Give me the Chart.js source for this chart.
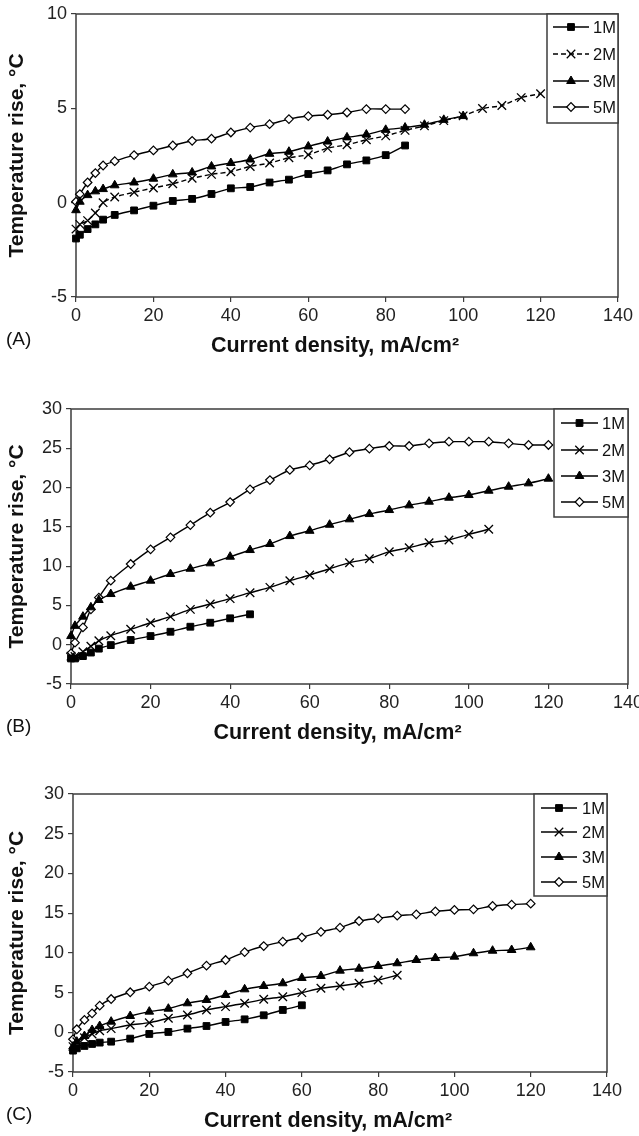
<!DOCTYPE html>
<html>
<head>
<meta charset="utf-8">
<script src="https://cdn.jsdelivr.net/npm/chart.js"></script>
<style>
    html, body { margin: 0; padding: 0; background: #fff; }
    body { width: 639px; height: 1136px; position: relative; overflow: hidden; }
    canvas { position: absolute; left: 0; }
</style>
</head>
<body>
<canvas id="chartA" width="639" height="362" style="top:0px"></canvas>
<canvas id="chartB" width="639" height="388" style="top:362px"></canvas>
<canvas id="chartC" width="639" height="386" style="top:750px"></canvas>
<script>
// ==================== DATA ====================
// current density, mA/cm2 (each series uses the first N values)
const X_MOC = [0, 1, 3, 5, 7, 10, 15, 20, 25, 30, 35, 40, 45, 50, 55, 60, 65, 70, 75, 80, 85, 90, 95, 100, 105, 110, 115, 120];
const SERIES_NAMES = ["1M", "2M", "3M", "5M"];
const X_TICKS = [0, 20, 40, 60, 80, 100, 120, 140];

// panel (A) temperature rise, °C
const a1M = [-1.9, -1.7, -1.4, -1.15, -0.9, -0.65, -0.41, -0.16, 0.09, 0.2, 0.46, 0.76, 0.83, 1.07, 1.22, 1.52, 1.71, 2.03, 2.24, 2.52, 3.03];
const a2M = [-1.4, -1.15, -0.95, -0.55, 0.0, 0.3, 0.55, 0.78, 1.0, 1.29, 1.5, 1.64, 1.92, 2.1, 2.38, 2.54, 2.89, 3.07, 3.33, 3.54, 3.83, 4.07, 4.35, 4.6, 4.99, 5.15, 5.57, 5.77];
const a3M = [-0.4, 0.05, 0.4, 0.6, 0.72, 0.92, 1.07, 1.27, 1.5, 1.6, 1.92, 2.1, 2.29, 2.59, 2.7, 2.98, 3.24, 3.46, 3.61, 3.86, 3.98, 4.13, 4.39, 4.59];
const a5M = [0.05, 0.45, 1.07, 1.57, 1.97, 2.2, 2.52, 2.77, 3.03, 3.28, 3.39, 3.72, 3.98, 4.16, 4.43, 4.59, 4.66, 4.78, 4.96, 4.96, 4.96];

// panel (B)
const b1M = [-1.75, -1.75, -1.45, -1.0, -0.5, -0.05, 0.6, 1.1, 1.65, 2.29, 2.8, 3.36, 3.87];
const b2M = [-1.45, -1.5, -0.9, -0.2, 0.5, 1.15, 1.96, 2.8, 3.57, 4.5, 5.18, 5.86, 6.62, 7.3, 8.15, 8.87, 9.67, 10.44, 10.95, 11.84, 12.35, 12.98, 13.33, 14.05, 14.69];
const b3M = [1.1, 2.4, 3.57, 4.76, 5.69, 6.45, 7.38, 8.15, 9.0, 9.67, 10.36, 11.2, 12.05, 12.82, 13.83, 14.5, 15.27, 15.96, 16.63, 17.14, 17.74, 18.2, 18.71, 19.05, 19.6, 20.11, 20.54, 21.13];
const b5M = [-1.1, 0.26, 2.2, 4.5, 6.0, 8.15, 10.27, 12.14, 13.67, 15.23, 16.8, 18.16, 19.78, 20.96, 22.24, 22.83, 23.6, 24.5, 24.95, 25.29, 25.29, 25.63, 25.84, 25.84, 25.84, 25.63, 25.42, 25.42];

// panel (C)
const c1M = [-2.31, -2.02, -1.72, -1.47, -1.3, -1.18, -0.8, -0.21, 0.04, 0.46, 0.79, 1.3, 1.63, 2.14, 2.81, 3.4];
const c2M = [-1.8, -1.2, -0.68, -0.21, 0.2, 0.46, 0.92, 1.21, 1.76, 2.18, 2.81, 3.23, 3.65, 4.15, 4.48, 4.99, 5.54, 5.83, 6.17, 6.58, 7.18];
const c3M = [-1.8, -1.18, -0.47, 0.29, 0.79, 1.34, 2.05, 2.6, 2.97, 3.65, 4.07, 4.7, 5.41, 5.83, 6.17, 6.84, 7.09, 7.76, 8.01, 8.35, 8.69, 9.1, 9.35, 9.52, 9.95, 10.27, 10.36, 10.7];
const c5M = [-0.88, 0.38, 1.55, 2.39, 3.35, 4.19, 5.04, 5.74, 6.5, 7.43, 8.39, 9.1, 10.1, 10.86, 11.41, 11.96, 12.65, 13.17, 14.01, 14.35, 14.68, 14.85, 15.23, 15.4, 15.48, 15.9, 16.07, 16.19];

const FONT = '"Liberation Sans", Arial, Helvetica, sans-serif';
const X_TITLE = "Current density, mA/cm\u00B2";
const Y_TITLE = "Temperature rise, \u00B0C";

// ==================== MARKER STYLES ====================
const KIEU = [
    { pointStyle: "rect", pointRadius: 4.8, pointBackgroundColor: "#000", pointBorderWidth: 1 },
    { pointStyle: "crossRot", pointRadius: 6, pointBackgroundColor: "#000", pointBorderWidth: 1.3 },
    { pointStyle: "triangle", pointRadius: 5, pointBackgroundColor: "#000", pointBorderWidth: 1 },
    { pointStyle: "rectRot", pointRadius: 4.3, pointBackgroundColor: "#fff", pointBorderWidth: 1.2 }
];

function taoDataset(ten, ys, i, dash) {
    return Object.assign({
        label: ten,
        data: ys.map((y, k) => ({ x: X_MOC[k], y: y })),
        borderColor: "#000",
        borderWidth: 1.4,
        borderDash: dash || [],
        pointBorderColor: "#000",
        tension: 0.25,
        clip: false
    }, KIEU[i]);
}

// ==================== FRAME, TITLES, LEGEND ====================
const trangTri = {
    id: "trangTri",
    beforeDatasetsDraw(chart, args, o) {
        const { ctx, chartArea: a } = chart;
        ctx.save();
        ctx.strokeStyle = "#3c3c3c";
        ctx.lineWidth = 1.5;
        ctx.strokeRect(a.left, a.top, a.right - a.left, a.bottom - a.top);
        ctx.restore();
    },
    afterDraw(chart, args, o) {
        const { ctx, chartArea: a } = chart;
        ctx.save();
        ctx.fillStyle = "#111";
        ctx.textBaseline = "middle";

        ctx.font = "bold 21.5px " + FONT;
        ctx.textAlign = "center";
        ctx.fillText(X_TITLE, (a.left + a.right) / 2 - 12, a.bottom + 49);

        ctx.font = "19px " + FONT;
        ctx.textAlign = "left";
        ctx.fillText(o.label, 6, a.bottom + 43);

        // legend box in the top right corner
        const lg = o.legend;
        const x0 = a.right - lg.w, y0 = a.top;
        ctx.fillStyle = "#fff";
        ctx.fillRect(x0, y0, lg.w, lg.h);
        ctx.strokeStyle = "#3c3c3c";
        ctx.lineWidth = 1.5;
        ctx.strokeRect(x0, y0, lg.w, lg.h);

        chart.data.datasets.forEach((ds, i) => {
            const y = y0 + lg.rows[i];
            ctx.strokeStyle = "#000";
            ctx.lineWidth = ds.borderWidth;
            ctx.setLineDash(ds.borderDash || []);
            ctx.beginPath();
            ctx.moveTo(x0 + lg.line[0], y);
            ctx.lineTo(x0 + lg.line[1], y);
            ctx.stroke();
            ctx.setLineDash([]);

            const cx = x0 + (lg.line[0] + lg.line[1]) / 2;
            ctx.fillStyle = ds.pointBackgroundColor;
            ctx.lineWidth = ds.pointBorderWidth;
            if (Chart.helpers && Chart.helpers.drawPoint) {
                Chart.helpers.drawPoint(ctx, {
                    pointStyle: ds.pointStyle, radius: ds.pointRadius,
                    rotation: 0, borderWidth: ds.pointBorderWidth
                }, cx, y);
            } else {
                ctx.fillRect(cx - 3, y - 3, 6, 6);
            }

            ctx.fillStyle = "#111";
            ctx.font = "16.5px " + FONT;
            ctx.textAlign = "left";
            ctx.fillText(ds.label, x0 + lg.textX, y + 1);
        });
        ctx.restore();
    }
};

// ==================== DRAW ONE PANEL ====================
function veBangChu(canvasId, cfg) {
    const datasets = cfg.series.map((ys, i) =>
        taoDataset(SERIES_NAMES[i], ys, i, cfg.dash && cfg.dash[i]));

    new Chart(document.getElementById(canvasId), {
        type: "line",
        data: { datasets: datasets },
        options: {
            responsive: false,
            animation: false,
            devicePixelRatio: 1,
            layout: { padding: { top: cfg.padTop, right: cfg.padRight, left: 0, bottom: 0 } },
            plugins: {
                legend: { display: false },
                tooltip: { enabled: false },
                trangTri: { label: cfg.label, legend: cfg.legend }
            },
            scales: {
                x: {
                    type: "linear",
                    min: 0, max: 140,
                    afterBuildTicks: s => { s.ticks = X_TICKS.map(v => ({ value: v })); },
                    afterFit: s => { s.height = cfg.xHeight; s.paddingLeft = 0; s.paddingRight = 0; },
                    border: { display: false },
                    grid: { drawOnChartArea: false, drawTicks: true, tickLength: 5, color: "#3c3c3c", lineWidth: 1.2 },
                    ticks: { color: "#222", font: { family: FONT, size: 18 }, padding: 3, maxRotation: 0 }
                },
                y: {
                    min: cfg.yMin, max: cfg.yMax,
                    afterBuildTicks: s => { s.ticks = cfg.yTicks.map(v => ({ value: v })); },
                    afterFit: s => { s.width = cfg.yWidth; s.paddingTop = 0; s.paddingBottom = 0; },
                    border: { display: false },
                    grid: { drawOnChartArea: false, drawTicks: true, tickLength: 5, color: "#3c3c3c", lineWidth: 1.2 },
                    ticks: { color: "#222", font: { family: FONT, size: 18 }, padding: 4 },
                    title: {
                        display: true, text: Y_TITLE, color: "#111",
                        font: { family: FONT, size: 21, weight: "bold" },
                        padding: { top: 5, bottom: 0 }
                    }
                }
            }
        },
        plugins: [trangTri]
    });
}

document.addEventListener("DOMContentLoaded", function () {
    veBangChu("chartA", {
        label: "(A)", series: [a1M, a2M, a3M, a5M], dash: [null, [5, 3], null, null],
        yMin: -5, yMax: 10, yTicks: [-5, 0, 5, 10],
        padTop: 14, padRight: 21, yWidth: 76, xHeight: 65,
        legend: { w: 71, h: 109, rows: [13, 40, 67, 93], line: [6, 42], textX: 46 }
    });
    veBangChu("chartB", {
        label: "(B)", series: [b1M, b2M, b3M, b5M],
        yMin: -5, yMax: 30, yTicks: [-5, 0, 5, 10, 15, 20, 25, 30],
        padTop: 47, padRight: 11, yWidth: 71, xHeight: 66,
        legend: { w: 74, h: 108, rows: [14, 41, 67, 93], line: [7, 44], textX: 48 }
    });
    veBangChu("chartC", {
        label: "(C)", series: [c1M, c2M, c3M, c5M],
        yMin: -5, yMax: 30, yTicks: [-5, 0, 5, 10, 15, 20, 25, 30],
        padTop: 44, padRight: 32, yWidth: 73, xHeight: 64,
        legend: { w: 73, h: 102, rows: [14, 38, 63, 88], line: [7, 43], textX: 48 }
    });
});
</script>
</body>
</html>
